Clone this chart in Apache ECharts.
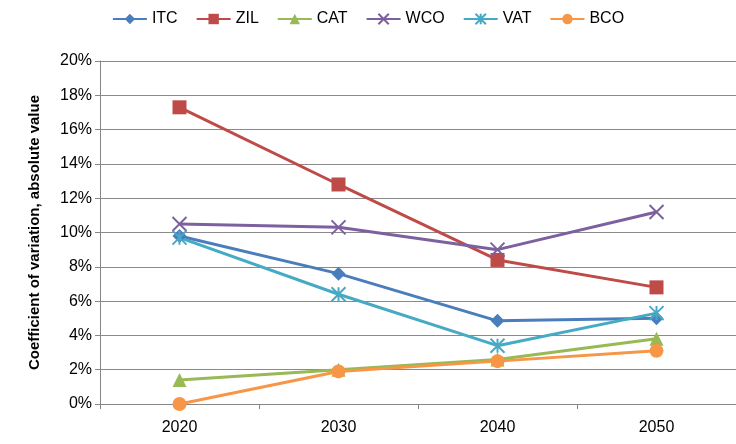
<!DOCTYPE html>
<html>
<head>
<meta charset="utf-8">
<script src="https://cdn.jsdelivr.net/npm/echarts@6/dist/echarts.min.js"></script>
<style>html,body{margin:0;padding:0;background:#fff}#chart{width:736px;height:444px}</style>
</head>
<body>
<div id="chart"></div>
<script>
const years = ['2020', '2030', '2040', '2050'];
const itc = [9.8, 7.6, 4.85, 5.0];
const zil = [17.3, 12.8, 8.4, 6.8];
const cat = [1.4, 2.0, 2.6, 3.8];
const wco = [10.5, 10.3, 9.0, 11.2];
const vat = [9.7, 6.4, 3.4, 5.3];
const bco = [0.0, 1.9, 2.5, 3.1];
const yTicks = [0, 2, 4, 6, 8, 10, 12, 14, 16, 18, 20];

const FONT = "'Liberation Sans', Arial, sans-serif";
const CROSS = 'path://M0,0L10,10M10,0L0,10';
const STAR = 'path://M0,0L10,10M10,0L0,10M5,0L5,10';

function line(name, data, color, symbol, size) {
  const stroked = symbol.startsWith('path://');
  return {
    name, data, type: 'line', symbol, symbolSize: size,
    lineStyle: { color, width: 3 },
    itemStyle: stroked ? { color: 'none', borderColor: color, borderWidth: 2 } : { color },
    emphasis: { disabled: true },
  };
}

const chart = echarts.init(document.getElementById('chart'), null, { renderer: 'canvas' });
chart.setOption({
  animation: false,
  legend: {
    top: 6, left: 'center', itemWidth: 34, itemHeight: 13, itemGap: 18,
    textStyle: { fontFamily: FONT, fontSize: 16, color: '#000' },
  },
  grid: { left: 100, right: -12, top: 61, bottom: 40 },
  xAxis: {
    type: 'category', data: years, boundaryGap: true,
    axisLine: { lineStyle: { color: '#868686' } },
    axisTick: { show: true, inside: false, length: 5, lineStyle: { color: '#868686' } },
    axisLabel: { fontFamily: FONT, fontSize: 16, color: '#000', margin: 16 },
  },
  yAxis: {
    type: 'value', min: 0, max: 20, interval: 2,
    name: 'Coefficient of variation, absolute value',
    nameLocation: 'middle', nameGap: 58,
    nameTextStyle: { fontFamily: FONT, fontSize: 15, fontWeight: 'bold', color: '#000' },
    axisLine: { show: true, lineStyle: { color: '#868686' } },
    axisTick: { show: true, length: 5, lineStyle: { color: '#868686' } },
    axisLabel: { fontFamily: FONT, fontSize: 16, color: '#000', formatter: v => yTicks.includes(v) ? v + '%' : '' },
    splitLine: { lineStyle: { color: '#8a8a8a', width: 1 } },
  },
  series: [
    line('ITC', itc, '#4a7ebb', 'diamond', 14),
    line('ZIL', zil, '#be4b48', 'rect', 14),
    line('CAT', cat, '#98b954', 'triangle', 14),
    line('WCO', wco, '#7d60a0', CROSS, 14),
    line('VAT', vat, '#46aac5', STAR, 14),
    line('BCO', bco, '#f79646', 'circle', 14),
  ],
});
</script>
</body>
</html>
